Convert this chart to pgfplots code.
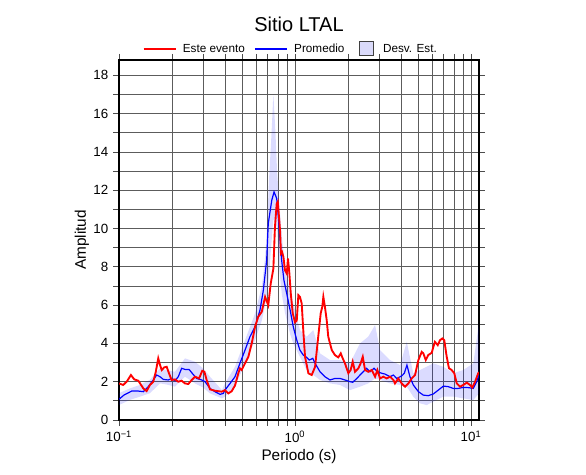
\documentclass[border=0pt]{standalone}
\usepackage{fontspec}
\setmainfont{Liberation Sans}
\usepackage{pgfplots}
\pgfplotsset{compat=1.18}
\usepackage{pgfplotstable}
\usepgfplotslibrary{fillbetween}
\pgfplotsset{
  legline/.style={legend image code/.code={\path[draw=none,fill=none] (0pt,0pt) -- (27.5pt,0pt); \draw[##1] (0pt,0pt) -- (24pt,0pt);}},
  legbox/.style={legend image code/.code={\path[draw=none,fill=none] (0pt,0pt) -- (20pt,0pt); \draw[fill={rgb,255:red,218;green,218;blue,250}, draw=black!75, line width=0.6pt] (4pt,-5pt) rectangle (14.5pt,5.5pt);}},
}

% lx = log10(periodo)
\pgfplotstableread{
lx a
-1.000 1.91
-0.976 1.83
-0.956 2.00
-0.932 2.35
-0.913 2.12
-0.890 2.05
-0.862 1.65
-0.843 1.51
-0.824 1.83
-0.805 2.00
-0.791 2.52
-0.777 3.22
-0.767 2.87
-0.757 2.61
-0.743 2.75
-0.729 2.78
-0.716 2.44
-0.701 2.09
-0.682 2.12
-0.663 2.00
-0.644 2.05
-0.625 1.91
-0.606 1.88
-0.587 2.09
-0.568 2.26
-0.545 2.17
-0.527 2.57
-0.515 2.52
-0.502 2.09
-0.483 1.60
-0.455 1.53
-0.416 1.48
-0.398 1.56
-0.379 1.39
-0.360 1.50
-0.341 1.80
-0.322 2.44
-0.313 2.70
-0.303 2.61
-0.284 2.96
-0.265 3.30
-0.246 4.00
-0.227 4.87
-0.209 5.39
-0.189 5.65
-0.170 6.43
-0.152 6.00
-0.138 7.13
-0.123 7.90
-0.114 10.08
-0.104 11.30
-0.098 11.40
-0.091 10.60
-0.085 9.90
-0.080 8.70
-0.074 8.78
-0.066 8.52
-0.057 7.82
-0.047 7.65
-0.040 8.43
-0.032 7.65
-0.024 6.60
-0.013 5.57
0.000 5.10
0.010 5.20
0.019 6.52
0.028 6.43
0.038 6.09
0.047 4.69
0.057 3.30
0.076 2.44
0.095 2.35
0.114 2.78
0.132 4.35
0.146 5.57
0.155 5.91
0.161 6.43
0.170 5.91
0.180 5.22
0.189 4.35
0.209 3.65
0.227 3.39
0.246 3.27
0.260 3.48
0.271 3.22
0.284 2.96
0.303 2.44
0.316 2.61
0.328 3.04
0.341 2.52
0.360 2.70
0.373 2.96
0.385 3.30
0.398 2.61
0.416 2.52
0.436 2.61
0.455 2.26
0.468 2.61
0.483 2.17
0.502 2.26
0.521 2.17
0.540 2.26
0.559 2.09
0.568 1.91
0.587 2.17
0.606 1.91
0.625 1.74
0.644 1.91
0.663 2.17
0.682 2.35
0.701 3.13
0.720 3.56
0.729 3.48
0.743 3.13
0.757 3.39
0.777 3.51
0.786 3.82
0.795 4.08
0.811 3.91
0.824 4.17
0.837 4.26
0.848 4.17
0.862 3.30
0.875 2.70
0.890 2.61
0.905 2.44
0.919 1.91
0.938 1.74
0.956 1.83
0.976 1.95
0.994 1.83
1.007 1.70
1.023 2.00
1.041 2.44
1.045 2.50
}\evento

\pgfplotstableread{
lx a
-1.000 1.08
-0.972 1.30
-0.928 1.51
-0.890 1.51
-0.862 1.48
-0.834 1.74
-0.805 2.09
-0.786 2.35
-0.767 2.26
-0.748 2.12
-0.720 2.09
-0.701 2.17
-0.682 2.05
-0.663 2.26
-0.644 2.70
-0.625 2.64
-0.602 2.64
-0.584 2.44
-0.559 2.17
-0.530 2.09
-0.511 2.00
-0.483 1.65
-0.455 1.48
-0.426 1.34
-0.407 1.39
-0.398 1.56
-0.369 1.91
-0.341 2.26
-0.313 2.96
-0.284 3.65
-0.256 4.35
-0.227 4.87
-0.199 5.74
-0.180 6.78
-0.161 8.35
-0.152 10.26
-0.132 11.48
-0.119 11.91
-0.104 11.57
-0.095 10.60
-0.085 9.39
-0.076 8.35
-0.063 7.30
-0.047 6.60
-0.028 5.75
-0.010 4.87
0.010 4.17
0.028 3.65
0.047 3.39
0.066 3.27
0.081 3.13
0.101 3.22
0.114 2.96
0.142 2.52
0.170 2.26
0.199 2.09
0.227 2.17
0.256 2.17
0.284 2.09
0.313 2.00
0.328 1.97
0.351 2.17
0.379 2.44
0.407 2.70
0.426 2.52
0.449 2.70
0.468 2.52
0.493 2.44
0.511 2.40
0.540 2.26
0.559 2.35
0.578 2.17
0.606 2.30
0.621 2.44
0.636 2.87
0.653 2.26
0.672 1.83
0.701 1.48
0.729 1.30
0.757 1.27
0.786 1.36
0.814 1.56
0.843 1.77
0.871 1.74
0.899 1.65
0.928 1.65
0.956 1.70
0.985 1.69
1.013 1.65
1.032 2.00
1.045 2.35
}\promedio

\pgfplotstableread{
lx lo hi
-1.000 0.78 1.40
-0.938 1.05 1.65
-0.881 1.22 1.83
-0.824 1.40 2.10
-0.767 1.91 2.70
-0.727 1.85 2.60
-0.682 1.74 2.52
-0.625 2.26 3.22
-0.568 1.91 3.04
-0.523 1.70 2.70
-0.483 1.39 2.26
-0.415 1.13 1.56
-0.398 1.22 1.91
-0.341 1.74 2.78
-0.284 2.96 4.17
-0.227 4.17 5.57
-0.188 5.22 7.00
-0.170 6.00 8.50
-0.159 6.60 10.00
-0.148 7.50 12.50
-0.136 9.00 14.50
-0.123 10.50 17.00
-0.111 10.30 15.00
-0.102 10.00 13.00
-0.091 8.00 11.50
-0.074 6.50 9.50
-0.057 5.60 8.00
-0.028 4.50 6.70
-0.010 4.00 6.10
0.028 3.30 4.69
0.066 2.61 4.35
0.104 2.35 4.69
0.142 2.09 3.48
0.199 1.91 3.13
0.256 1.83 3.13
0.313 1.56 2.96
0.369 1.74 4.00
0.416 1.91 4.35
0.455 2.17 4.96
0.483 2.09 3.65
0.540 1.91 3.13
0.597 1.83 2.87
0.635 1.74 4.08
0.672 1.22 2.44
0.710 0.87 2.61
0.748 0.78 2.78
0.786 0.96 2.96
0.843 1.22 2.78
0.899 1.22 2.44
0.956 1.13 2.61
1.013 1.04 2.96
1.045 1.39 5.04
}\banda

\begin{document}
\begin{tikzpicture}
\begin{axis}[
  at={(89.25pt,41.25pt)}, anchor=south west,
  width=270pt, height=270pt, scale only axis,
  xmode=log, xmin=0.1, xmax=11.1, ymin=0, ymax=18.8,
  xtick={0.1,1,10},
  xticklabels={10\textsuperscript{−1},10\textsuperscript{0},10\textsuperscript{1}},
  ytick={0,2,...,18}, minor ytick={1,3,...,17},
  grid=both,
  major grid style={draw=black!64, line width=0.6pt},
  minor grid style={draw=black!64, line width=0.6pt},
  tick align=outside, major tick length=4.5pt, minor tick length=4.5pt,
  every tick/.style={black!70, line width=0.6pt},
  axis line style={line width=1.5pt},
  /pgf/number format/assume math mode=true,
  tick label style={font=\fontsize{10}{12}\selectfont},
  xlabel={Periodo (s)}, ylabel={Amplitud},
  label style={font=\fontsize{11.5}{13}\selectfont},
  xlabel style={at={(axis description cs:0.5,0)}, anchor=base, yshift=-30.75pt},
  ylabel style={at={(axis description cs:0,0.5)}, anchor=center, yshift=27.75pt},
  title={Sitio LTAL},
  title style={at={(axis description cs:0.5,1)}, anchor=base, yshift=15pt, font=\fontsize{15}{18}\selectfont},
  legend style={at={(axis description cs:0.5,1)}, anchor=south, yshift=2pt, xshift=-6pt,
    draw=none, fill=none, inner sep=0pt, font=\fontsize{8.8}{10}\selectfont,
    /tikz/every even column/.append style={column sep=5pt}},
  legend columns=3,
]
\addlegendimage{red, line width=1.5pt, legline}
\addlegendentry{Este evento}
\addlegendimage{blue, line width=1.1pt, legline}
\addlegendentry{Promedio}
\addlegendimage{legbox}
\addlegendentry{Desv. Est.}

\addplot[name path=up, draw=none, forget plot] table[x expr={10^(\thisrow{lx})}, y=hi] {\banda};
\addplot[name path=dn, draw=none, forget plot] table[x expr={10^(\thisrow{lx})}, y=lo] {\banda};
\addplot[fill=blue, fill opacity=0.14, draw=none, forget plot] fill between[of=up and dn];
\addplot[blue, line width=0.9pt, forget plot] table[x expr={10^(\thisrow{lx})}, y=a] {\promedio};
\addplot[red, line width=1.4pt, forget plot] table[x expr={10^(\thisrow{lx})}, y=a] {\evento};
\end{axis}
\path (0,0) rectangle (439.5pt,356.25pt);
\end{tikzpicture}
\end{document}
